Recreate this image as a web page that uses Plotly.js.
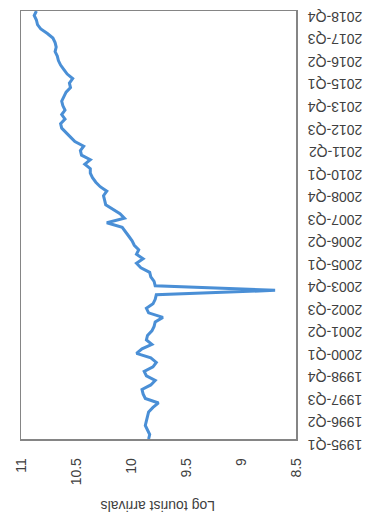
<!DOCTYPE html>
<html>
<head>
<meta charset="utf-8">
<script src="https://cdn.plot.ly/plotly-3.0.1.min.js"></script>
<style>
html,body{margin:0;padding:0;background:#fff;}
#chart{width:369px;height:516px;}
</style>
</head>
<body>
<div id="chart"></div>
<script>
const quarters = [
"1995-Q1","1995-Q2","1995-Q3","1995-Q4","1996-Q1","1996-Q2","1996-Q3","1996-Q4",
"1997-Q1","1997-Q2","1997-Q3","1997-Q4","1998-Q1","1998-Q2","1998-Q3","1998-Q4",
"1999-Q1","1999-Q2","1999-Q3","1999-Q4","2000-Q1","2000-Q2","2000-Q3","2000-Q4",
"2001-Q1","2001-Q2","2001-Q3","2001-Q4","2002-Q1","2002-Q2","2002-Q3","2002-Q4",
"2003-Q1","2003-Q2","2003-Q3","2003-Q4","2004-Q1","2004-Q2","2004-Q3","2004-Q4",
"2005-Q1","2005-Q2","2005-Q3","2005-Q4","2006-Q1","2006-Q2","2006-Q3","2006-Q4",
"2007-Q1","2007-Q2","2007-Q3","2007-Q4","2008-Q1","2008-Q2","2008-Q3","2008-Q4",
"2009-Q1","2009-Q2","2009-Q3","2009-Q4","2010-Q1","2010-Q2","2010-Q3","2010-Q4",
"2011-Q1","2011-Q2","2011-Q3","2011-Q4","2012-Q1","2012-Q2","2012-Q3","2012-Q4",
"2013-Q1","2013-Q2","2013-Q3","2013-Q4","2014-Q1","2014-Q2","2014-Q3","2014-Q4",
"2015-Q1","2015-Q2","2015-Q3","2015-Q4","2016-Q1","2016-Q2","2016-Q3","2016-Q4",
"2017-Q1","2017-Q2","2017-Q3","2017-Q4","2018-Q1","2018-Q2","2018-Q3","2018-Q4"
];

const logArrivals = [
9.84,9.83,9.85,9.87,9.86,9.85,9.84,9.80,
9.75,9.87,9.89,9.90,9.82,9.78,9.86,9.88,
9.80,9.77,9.82,9.95,9.90,9.81,9.86,9.85,
9.81,9.79,9.78,9.71,9.84,9.86,9.80,9.78,
9.77,8.69,9.78,9.79,9.82,9.83,9.91,9.95,
9.89,9.95,9.93,9.97,9.99,10.02,10.05,10.08,
10.22,10.06,10.10,10.17,10.23,10.24,10.25,10.22,
10.28,10.32,10.35,10.37,10.37,10.42,10.37,10.45,
10.46,10.43,10.51,10.55,10.59,10.63,10.64,10.60,
10.63,10.60,10.62,10.63,10.61,10.59,10.55,10.56,
10.53,10.58,10.61,10.64,10.66,10.67,10.69,10.68,
10.69,10.71,10.76,10.82,10.85,10.86,10.88,10.86
];

const tickQuarters = [
"1995-Q1","1996-Q2","1997-Q3","1998-Q4","2000-Q1","2001-Q2","2002-Q3","2003-Q4",
"2005-Q1","2006-Q2","2007-Q3","2008-Q4","2010-Q1","2011-Q2","2012-Q3","2013-Q4",
"2015-Q1","2016-Q2","2017-Q3","2018-Q4"
];

const valueTicks = [8.5, 9, 9.5, 10, 10.5, 11];
const valueTickText = ["8.5", "9", "9.5", "10", "10.5", "11"];
const axisTitle = "Log tourist arrivals";

const font = "Liberation Sans, Arial, sans-serif";

const trace = {
  type: "scatter",
  mode: "lines",
  x: logArrivals,
  y: quarters,
  line: {color: "#4a8fd6", width: 3},
  hoverinfo: "skip"
};

const layout = {
  width: 369,
  height: 516,
  margin: {l: 21, r: 73, t: 11, b: 77},
  paper_bgcolor: "#ffffff",
  plot_bgcolor: "#ffffff",
  showlegend: false,
  font: {family: font, color: "#404040", size: 12},
  xaxis: {
    range: [11, 8.5],
    side: "bottom",
    tickvals: valueTicks,
    ticktext: valueTickText,
    tickangle: -90,
    ticks: "",
    ticklabelstandoff: 12,
    showgrid: false,
    zeroline: false,
    showline: true,
    mirror: true,
    linecolor: "#858585",
    linewidth: 1.5,
    tickfont: {family: font, size: 14, color: "#404040"}
  },
  yaxis: {
    type: "category",
    categoryorder: "array",
    categoryarray: quarters,
    range: [0, 95],
    side: "right",
    tickvals: tickQuarters,
    ticktext: tickQuarters,
    tickangle: 180,
    ticks: "",
    ticklabelstandoff: 62,
    ticklabelshift: 10,
    showgrid: false,
    zeroline: false,
    showline: true,
    mirror: true,
    linecolor: "#858585",
    linewidth: 1.5,
    tickfont: {family: font, size: 14, color: "#404040"}
  },
  annotations: [{
    text: axisTitle,
    xref: "paper",
    yref: "paper",
    x: 0.5,
    y: -0.155,
    xanchor: "center",
    yanchor: "middle",
    textangle: 180,
    showarrow: false,
    font: {family: font, size: 14, color: "#404040"}
  }]
};

Plotly.newPlot("chart", [trace], layout, {displayModeBar: false, staticPlot: true});
</script>
</body>
</html>
